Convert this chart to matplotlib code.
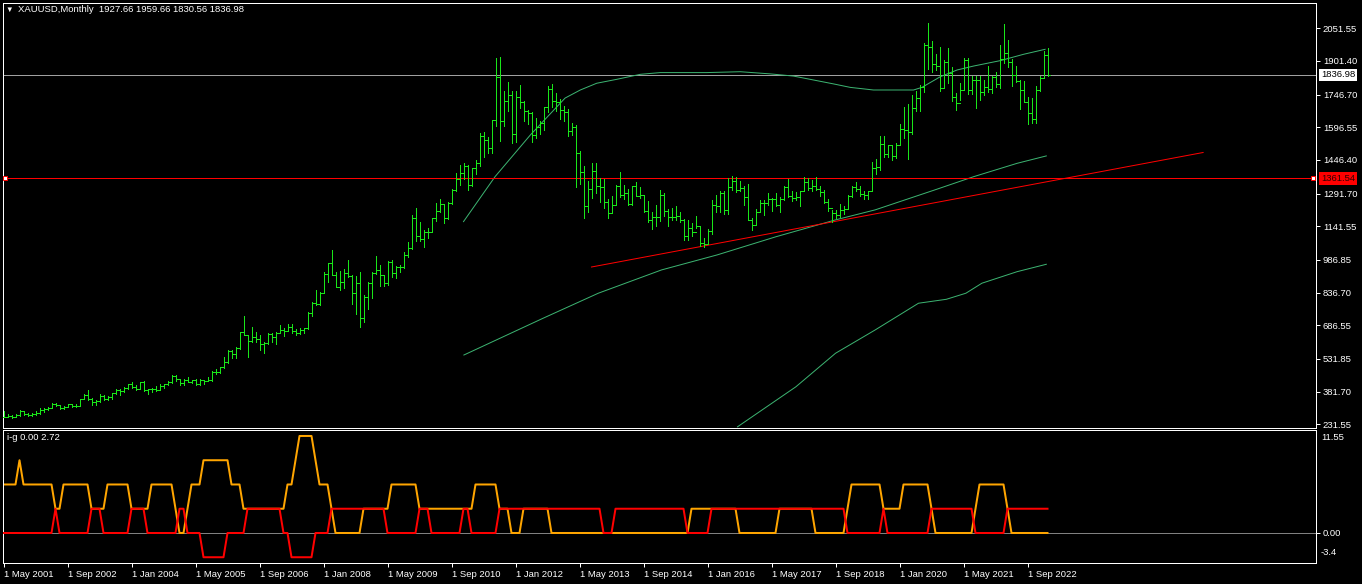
import numpy as np
import matplotlib.pyplot as plt
from matplotlib.collections import LineCollection
from matplotlib.transforms import blended_transform_factory

# Monthly XAUUSD bars, May 2001 .. Feb 2023
first_open = 263.7
close_px = [
    267.1, 270.6, 265.9, 273.0, 293.1, 278.8, 274.5, 278.9,
    282.3, 296.8, 301.4, 308.2, 326.6, 318.5, 304.7, 312.8, 323.7, 316.9, 317.7, 347.2,
    367.5, 347.5, 334.9, 336.8, 361.4, 346.0, 354.8, 375.6, 388.0, 386.3, 398.4, 416.3,
    402.2, 395.9, 427.0, 387.5, 394.0, 394.3, 391.4, 407.3, 415.7, 428.1, 452.8, 438.0,
    422.2, 435.5, 427.5, 435.7, 414.5, 437.1, 429.0, 433.3, 473.3, 470.8, 495.7, 517.0,
    568.8, 556.0, 582.0, 654.5, 643.0, 613.5, 632.5, 623.5, 599.3, 603.8, 646.7, 632.0,
    650.5, 664.2, 661.8, 677.0, 659.1, 650.5, 665.5, 672.0, 742.8, 789.5, 783.5, 833.8,
    923.3, 971.5, 916.2, 864.5, 885.8, 928.3, 913.0, 833.0, 880.8, 718.0, 814.5, 882.0,
    927.3, 942.0, 916.5, 883.2, 979.5, 926.0, 953.7, 955.5, 1007.7, 1040.5, 1181.5, 1096.5,
    1081.0, 1116.5, 1113.3, 1178.5, 1213.5, 1242.0, 1181.3, 1247.0, 1307.8, 1358.8, 1385.5, 1420.8,
    1332.3, 1409.8, 1432.1, 1556.2, 1536.5, 1500.4, 1628.3, 1825.5, 1623.9, 1715.3, 1746.4, 1565.8,
    1737.1, 1710.6, 1669.3, 1664.0, 1560.8, 1598.5, 1614.4, 1691.0, 1772.1, 1719.5, 1712.7, 1675.8,
    1664.8, 1578.5, 1597.1, 1476.3, 1393.4, 1234.6, 1313.3, 1395.1, 1327.1, 1323.5, 1253.1, 1202.3,
    1240.3, 1326.5, 1283.8, 1295.9, 1246.0, 1327.3, 1282.9, 1287.4, 1210.5, 1171.6, 1182.6, 1184.4,
    1283.2, 1212.8, 1183.2, 1184.1, 1190.6, 1172.2, 1095.2, 1133.0, 1114.8, 1141.4, 1064.8, 1060.2,
    1118.1, 1237.9, 1234.4, 1292.6, 1214.6, 1321.9, 1350.2, 1308.6, 1315.4, 1275.5, 1172.4, 1146.7,
    1209.5, 1248.3, 1247.3, 1268.4, 1268.4, 1241.6, 1268.7, 1320.5, 1279.5, 1270.5, 1274.6, 1303.1,
    1344.6, 1317.8, 1325.1, 1315.2, 1298.3, 1252.4, 1223.8, 1201.0, 1192.0, 1214.7, 1222.5, 1281.6,
    1321.2, 1313.2, 1291.9, 1283.6, 1305.6, 1409.3, 1413.7, 1520.0, 1472.3, 1513.2, 1464.5, 1517.1,
    1589.2, 1585.7, 1577.2, 1686.4, 1730.3, 1780.9, 1975.9, 1967.8, 1885.8, 1878.8, 1776.8, 1898.4,
    1847.7, 1734.0, 1707.7, 1769.1, 1906.9, 1770.1, 1814.2, 1813.6, 1756.9, 1783.4, 1774.3, 1828.6,
    1796.7, 1908.9, 1937.2, 1896.5, 1837.4, 1807.3, 1765.9, 1711.0, 1660.5, 1633.6, 1768.5, 1824.0,
    1927.66, 1836.98,
]
high_px = [
    293, 278, 272, 281, 298, 294, 283, 283,
    293, 305, 305, 311, 328, 330, 322, 316, 326, 324, 325, 350,
    372, 390, 352, 341, 373, 368, 363, 376, 393, 393, 401, 418,
    428, 414, 427, 430, 396, 399, 408, 418, 419, 431, 456, 456,
    440, 440, 447, 437, 438, 442, 431, 448, 477, 485, 497, 541,
    571, 574, 585, 654, 731, 643, 678, 656, 644, 610, 649, 649,
    657, 690, 672, 692, 691, 668, 673, 675, 746, 795, 848, 841,
    930, 975, 1033, 933, 935, 943, 988, 917, 911, 932, 825, 884,
    933, 1006, 964, 918, 982, 988, 960, 965, 1024, 1070, 1195, 1227,
    1162, 1126, 1135, 1180, 1249, 1265, 1244, 1252, 1315, 1388, 1425, 1432,
    1424, 1411, 1447, 1569, 1577, 1552, 1632, 1913, 1921, 1764, 1803, 1764,
    1763, 1791, 1717, 1677, 1668, 1641, 1627, 1692, 1788, 1796, 1755, 1725,
    1695, 1681, 1617, 1605, 1488, 1418, 1348, 1434, 1434, 1362, 1361, 1268,
    1280, 1332, 1392, 1331, 1315, 1326, 1345, 1322, 1287, 1256, 1208, 1239,
    1307, 1294, 1219, 1224, 1233, 1205, 1174, 1170, 1157, 1191, 1142, 1088,
    1127, 1263, 1287, 1303, 1304, 1362, 1375, 1367, 1352, 1325, 1337, 1180,
    1220, 1264, 1262, 1295, 1270, 1296, 1274, 1326, 1357, 1306, 1299, 1306,
    1366, 1362, 1356, 1366, 1326, 1309, 1265, 1217, 1215, 1243, 1237, 1284,
    1326, 1346, 1325, 1302, 1306, 1438, 1453, 1555, 1557, 1517, 1515, 1524,
    1611, 1689, 1704, 1747, 1765, 1789, 1983, 2075, 1992, 1933, 1966, 1907,
    1959, 1872, 1755, 1798, 1913, 1916, 1832, 1834, 1834, 1814, 1877, 1831,
    1853, 1974, 2070, 1998, 1909, 1879, 1814, 1808, 1735, 1730, 1786, 1833,
    1949, 1959.66,
]
low_px = [
    263, 265, 262, 264, 270, 272, 271, 271,
    276, 281, 288, 299, 308, 314, 301, 300, 311, 313, 313, 317,
    346, 344, 320, 320, 335, 341, 342, 350, 373, 367, 378, 396,
    398, 390, 392, 385, 371, 381, 386, 389, 398, 410, 422, 430,
    414, 411, 426, 423, 413, 413, 417, 430, 432, 462, 469, 489,
    515, 538, 535, 578, 641, 542, 612, 610, 573, 560, 600, 609,
    602, 649, 636, 660, 650, 640, 646, 651, 671, 730, 779, 781,
    834, 885, 917, 864, 848, 856, 910, 786, 737, 681, 700, 760,
    810, 921, 866, 865, 874, 910, 905, 932, 950, 1000, 1039, 1075,
    1073, 1045, 1087, 1114, 1165, 1205, 1155, 1175, 1242, 1305, 1332, 1360,
    1308, 1329, 1381, 1420, 1462, 1478, 1478, 1603, 1534, 1603, 1670, 1523,
    1527, 1687, 1627, 1612, 1527, 1549, 1564, 1583, 1666, 1692, 1672, 1636,
    1626, 1555, 1562, 1322, 1338, 1180, 1208, 1271, 1293, 1251, 1227, 1181,
    1202, 1238, 1277, 1268, 1241, 1240, 1280, 1272, 1205, 1161, 1131, 1141,
    1167, 1191, 1142, 1170, 1169, 1162, 1077, 1080, 1099, 1133, 1052, 1046,
    1061, 1107, 1208, 1207, 1199, 1199, 1310, 1300, 1303, 1241, 1171, 1123,
    1146, 1209, 1194, 1241, 1214, 1236, 1205, 1262, 1274, 1260, 1264, 1237,
    1303, 1307, 1303, 1309, 1282, 1247, 1211, 1160, 1180, 1182, 1196, 1221,
    1276, 1302, 1280, 1266, 1266, 1305, 1382, 1400, 1459, 1459, 1445, 1455,
    1517, 1548, 1451, 1568, 1670, 1671, 1758, 1863, 1849, 1859, 1764, 1775,
    1802, 1717, 1677, 1720, 1766, 1750, 1751, 1687, 1721, 1746, 1758, 1753,
    1780, 1779, 1890, 1872, 1787, 1805, 1681, 1711, 1614, 1617, 1616, 1765,
    1823, 1830.56,
]

# green curves (bar index, price)
ma1_idx = [115, 122.9, 131.7, 140.4, 144.2, 148.3, 153.3, 159.2, 164.2, 175.8, 184.2, 191.7,
           197.5, 202.5, 207.5, 211.7, 217.5, 227.5, 229.6, 234.2, 238.4, 242.5, 249.2, 255, 260.4]
ma1_val = [1163, 1370, 1561, 1731, 1768, 1799, 1817, 1840, 1848, 1848, 1852, 1842,
           1832, 1814, 1796, 1780, 1768, 1768, 1780, 1829, 1860, 1878, 1903, 1932, 1955]
ma2_idx = [115.1, 134.9, 148.7, 164.5, 178.4, 193.2, 208.0, 217.9, 232.7, 242.6, 253.4, 260.7]
ma2_val = [550, 719, 834, 941, 1010, 1094, 1171, 1217, 1308, 1370, 1431, 1465]
ma3_idx = [183.5, 198.1, 208.0, 217.9, 228.75, 235.7, 240.6, 244.6, 253.4, 260.7]
ma3_val = [220, 404, 558, 665, 788, 806, 834, 880, 933, 967]

trend_idx = [147.0, 299.9]
trend_val = [954.5, 1480.7]
hline_price = 1361.54
last_price = 1836.98

price_ticks = [2051.55, 1901.40, 1746.70, 1596.55, 1446.40, 1291.70, 1141.55,
               986.85, 836.70, 686.55, 531.85, 381.70, 231.55]
date_ticks = list(range(0, 257, 16))
date_labels = ['1 May 2001', '1 Sep 2002', '1 Jan 2004', '1 May 2005', '1 Sep 2006',
               '1 Jan 2008', '1 May 2009', '1 Sep 2010', '1 Jan 2012', '1 May 2013',
               '1 Sep 2014', '1 Jan 2016', '1 May 2017', '1 Sep 2018', '1 Jan 2020',
               '1 May 2021', '1 Sep 2022']

# i-g indicator: (start bar, level in steps)
ig_step = 2.72
orange_runs = [(0, 2), (4, 3), (5, 2), (13, 1), (15, 2), (22, 1), (26, 2), (32, 1), (37, 2),
               (43, 1), (44, 0), (46, 1), (47, 2), (50, 3), (57, 2), (60, 1), (71, 2), (73, 3),
               (74, 4), (78, 3), (79, 2), (82, 1), (83, 0), (90, 1), (97, 2), (104, 1), (118, 2),
               (124, 1), (127, 0), (130, 1), (137, 0), (172, 1), (184, 0), (194, 1), (203, 0),
               (211, 1), (212, 2), (220, 1), (225, 2), (232, 1), (233, 0), (243, 1), (244, 2),
               (251, 1), (252, 0)]
red_runs = [(0, 0), (13, 1), (14, 0), (22, 1), (25, 0), (32, 1), (36, 0), (44, 1), (46, 0),
            (50, -1), (56, 0), (61, 1), (70, 0), (72, -1), (78, 0), (82, 1), (96, 0), (104, 1),
            (107, 0), (115, 1), (117, 0), (124, 1), (150, 0), (153, 1), (171, 0), (177, 1),
            (211, 0), (220, 1), (221, 0), (232, 1), (243, 0), (251, 1)]

n = len(close_px)
idx = np.arange(n)
opens = np.r_[first_open, close_px[:-1]]


def expand(runs):
    starts = [s for s, _ in runs] + [n]
    out = []
    for k, (s, lev) in enumerate(runs):
        out += [lev] * (starts[k + 1] - s)
    return np.array(out) * ig_step


orange = expand(orange_runs)
red = expand(red_runs)

W, H = 1362, 584
px = 0.72
fs = 6.8
FONT = ['Liberation Sans', 'DejaVu Sans']
plt.rcParams['font.family'] = FONT
fig = plt.figure(figsize=(W / 100, H / 100), dpi=100, facecolor='black')


def px_axes(x0, y0, x1, y1):
    return fig.add_axes([x0 / W, 1 - y1 / H, (x1 - x0) / W, (y1 - y0) / H], facecolor='black')


ax = px_axes(2.5, 2.7, 1316, 427.7)
ax2 = px_axes(2.5, 430, 1316, 563.3)
xlim = ((2.5 - 3.5) / 4, (1316 - 3.5) / 4)

# ---- main panel
bar_col = '#19e619'
segs = []
for i in range(n):
    segs.append([(i, low_px[i]), (i, high_px[i])])
    segs.append([(i - 0.5, opens[i]), (i, opens[i])])
    segs.append([(i, close_px[i]), (i + 0.5, close_px[i])])
ax.add_collection(LineCollection(segs, colors=bar_col, linewidths=px, antialiased=False, zorder=3))

ma_col = '#3cb371'
for xs, ys in [(ma1_idx, ma1_val), (ma2_idx, ma2_val), (ma3_idx, ma3_val)]:
    ax.plot(xs, ys, color=ma_col, lw=px, zorder=2)

ax.plot(trend_idx, trend_val, color='red', lw=px, zorder=2)
ax.axhline(hline_price, color='red', lw=px, zorder=2)
ax.axhline(last_price, color='#a0a0a0', lw=px, zorder=1)
ax.plot([0.4, 327.3], [hline_price] * 2, ls='none', marker='s', ms=3.5, mfc='white',
        mec='red', mew=0.7, clip_on=False, zorder=5)

ax.set_xlim(*xlim)
ax.set_ylim(2051.55 - (427.7 - 28.3) * 4.596, 2051.55 + (28.3 - 2.7) * 4.596)
ax.set_xticks([])
ax.yaxis.tick_right()
ax.set_yticks(price_ticks)
ax.set_yticklabels([f'{v:.2f}' for v in price_ticks])
ax.tick_params(axis='y', colors='white', direction='out', length=3, width=px,
               labelsize=fs, pad=2)

tr = blended_transform_factory(ax.transAxes, ax.transData)
ax.text(1.0 + 5 / 1313.5, last_price, '1836.98', transform=tr, va='center', ha='left',
        fontsize=fs, color='black', bbox=dict(fc='white', ec='none', pad=1.2), zorder=6)
ax.text(1.0 + 5 / 1313.5, hline_price, '1361.54', transform=tr, va='center', ha='left',
        fontsize=fs, color='#300000', bbox=dict(fc='#ff0000', ec='none', pad=1.2), zorder=6)

# ---- indicator panel
ax2.axhline(0, color='#808080', lw=px, zorder=1)
ax2.plot(idx, orange, color='#ffa500', lw=2 * px, zorder=2)
ax2.plot(idx, red, color='#ff0000', lw=2 * px, zorder=3)
ax2.set_xlim(*xlim)
ax2.set_ylim(-3.4, 11.55)
ax2.set_xticks(date_ticks)
ax2.set_xticklabels(date_labels, ha='left')
ax2.tick_params(axis='x', colors='white', direction='out', length=3, width=px,
                labelsize=fs, pad=1.5)
ax2.yaxis.tick_right()
ax2.set_yticks([0])
ax2.set_yticklabels(['0.00'])
ax2.tick_params(axis='y', colors='white', direction='out', length=3, width=px,
                labelsize=fs, pad=2)
ax2.text(1.0 + 5 / 1313.5, 0.975, '11.55', transform=ax2.transAxes, va='top', ha='left',
         fontsize=fs, color='white')
ax2.text(1.0 + 5 / 1313.5, 0.05, '-3.4', transform=ax2.transAxes, va='bottom', ha='left',
         fontsize=fs, color='white')

for a in (ax, ax2):
    for sp in a.spines.values():
        sp.set_color('white')
        sp.set_linewidth(px)

fig.text(5 / W, 1 - 10 / H, '\u25bc', color='white', fontsize=5.5, va='center', ha='left')
fig.text(18 / W, 1 - 10 / H, 'XAUUSD,Monthly  1927.66 1959.66 1830.56 1836.98',
         color='white', fontsize=fs, va='center', ha='left')
fig.text(7 / W, 1 - 437 / H, 'i-g 0.00 2.72', color='white', fontsize=fs,
         va='center', ha='left')

fig.savefig('out.png', dpi=100, facecolor='black')
